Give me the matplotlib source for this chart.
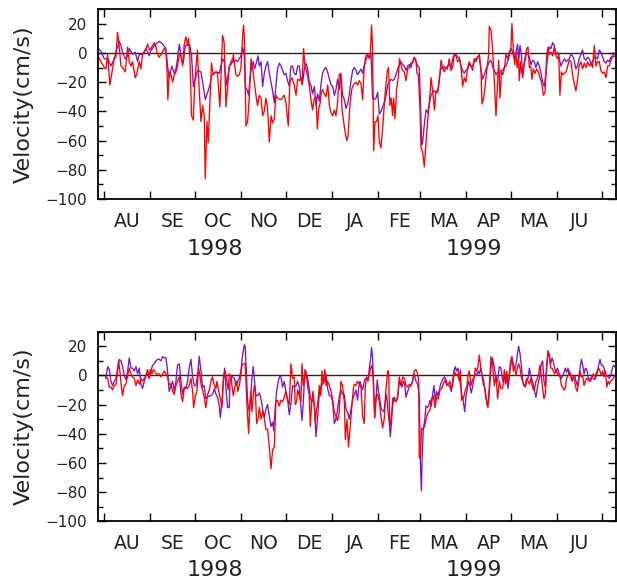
import numpy as np
import pandas as pd
import matplotlib
matplotlib.use("Agg")
import matplotlib.pyplot as plt
import matplotlib.dates as mdates
import matplotlib.transforms as mtransforms
from matplotlib.ticker import FixedLocator, FixedFormatter, MultipleLocator, NullFormatter

plt.rcParams["font.family"] = ["DejaVu Sans"]

# (days since 1998-08-01, velocity cm/s)
top_red = [
    (-3.8, -3), (-2.2, -6), (0, -10), (1.1, -11), (2.3, -1), (3.8, -22), (5.6, -11), (6.7, -4), (7.8, -3),
    (8.9, 14), (10.1, 4), (11.2, -9), (12.3, -10), (14.1, -13), (15.7, 4), (16.8, -6), (17.9, -9), (19, -6),
    (20.8, -17), (21.7, -15), (23.5, -6), (24.6, -11), (25.7, -1), (26.9, 0.5), (28, 3), (29.1, 6), (30.2, 2),
    (31.3, 3), (32.5, 5), (33.6, 7), (34.7, 4), (35.8, -1), (36.9, -3), (38.1, -1), (40.3, 3), (41.4, 0.5),
    (42.1, -11), (42.7, -32), (43.6, -13), (44.8, -15), (45.9, -20), (47, -15), (48.1, -13), (49.2, -9),
    (50.4, -0.5), (51.5, -2), (52.6, -9), (53.7, 6), (54.8, 11), (55.9, 5), (56.6, 10), (57.5, -4), (58.6, -43),
    (59.8, -46), (60.7, -20), (61.5, -10), (62.5, 2), (63.5, -20), (64.9, -47), (66, -36), (67.1, -43),
    (67.8, -86), (68.9, -47), (69.8, -61), (70.9, -34), (72, -7), (73.2, -15), (74.5, -13), (76, -14),
    (77.6, -37), (79.4, 12), (80.5, 7), (81.7, -37), (83.9, -9), (85, -8), (86.2, -6), (86.6, -1), (88.4, -15),
    (89.5, -16), (90.6, -15), (91.7, -11), (92.9, 12), (93.5, 19), (94.2, 7), (95.1, -50), (96.2, -47),
    (97.3, -31), (98.5, -4), (99.6, -10), (100.7, -20), (101.8, -29), (102.9, -36), (104, -29), (105.2, -31),
    (106.3, -43), (107.4, -40), (108.5, -31), (109.6, -38), (110.8, -61), (111.9, -43), (113, -48), (114.1, -45),
    (115.2, -29), (116.3, -31), (118.6, -32), (120.8, -29), (121.9, -34), (123.5, -50), (124.6, -20), (126, -17),
    (127.5, -22), (128.7, -29), (129.8, -18), (130.9, -19), (132, -17), (132.7, -22), (133.8, 3), (134.7, -9),
    (135.4, -11), (136.5, -16), (137.6, -22), (138.7, -32), (139.8, -39), (141, -31), (142.1, -30), (143, -52),
    (143.9, -38), (144.8, -35), (145.7, -27), (146.6, -25), (147.7, -28), (148.8, -30), (150, -22), (151.1, -36),
    (152.2, -41), (153.3, -43), (154.4, -39), (155.5, -43), (156.6, -34), (157.7, -15), (158.8, -14),
    (159.5, -38), (160.4, -45), (161.3, -52), (162.7, -60), (163.6, -57), (165, -34), (166.1, -25), (167.2, -22),
    (168.9, -20), (170, -22), (171.2, -19), (172.3, -21), (173.4, -32), (174.5, -9), (175.6, -2), (176.8, -1),
    (177.9, -4), (178.6, 0.5), (179.4, 19), (180.1, 3), (180.8, -67), (181.7, -47), (182.8, -47), (183.7, -43),
    (184.6, -61), (185.7, -65), (186.8, -52), (187.9, -36), (189, -22), (190, -12), (190.8, -10), (191.7, -36),
    (192.6, -31), (193.5, -43), (194.2, -31), (195.1, -45), (196.2, -25), (197.3, -17), (198.2, -4), (199.1, -8),
    (200.2, -12), (201.4, -13), (202.5, -19), (203.6, -11), (204.7, -10), (205.8, -7), (206.9, -7), (208, -3),
    (209.2, -5), (209.9, -14), (210.8, -15), (211.9, -38), (212.6, -65), (213.7, -68), (214.8, -78), (216, -61),
    (217.1, -45), (218.2, -35), (219.3, -17), (220.4, -26), (221.6, -39), (222.6, -26), (223.7, -27),
    (224.8, -20), (226, -5), (227.1, -10), (228.2, -13), (229.3, -10), (230.4, -11), (231.5, -4), (232.7, -12),
    (233.8, -10), (234.9, -1), (236, -2), (237.2, -6), (238.3, -4), (239.4, -9), (240.5, -23), (241.6, -17),
    (242.7, -20), (243.9, -10), (245, -6), (246.1, -9), (247.2, -12), (248.3, -4), (249.4, -6), (250.6, -3),
    (251.7, -1), (252.8, -12), (253.5, -35), (254.6, -31), (255.7, -22), (256.8, -11), (257.9, -2), (258.4, 18),
    (259.5, 16), (260.6, 3), (261.8, -20), (262.9, -43), (264, -20), (264.7, -5), (265.6, -31), (266.5, -13),
    (267.4, -15), (268.5, -11), (269.6, -1), (270.7, -4), (271.8, 0.5), (272.9, 3), (273.6, 20), (274.5, 3),
    (275.4, -8), (276.3, 0.5), (277, -10), (277.9, -4), (278.6, -19), (279.4, -6), (280.3, -14), (281.2, -11),
    (282.3, -4), (283.5, 3), (284.4, 4), (285.3, -10), (286.2, -9), (287.1, -18), (288, -11), (289.1, -14),
    (290.2, -11), (291.3, -13), (292.4, -17), (293.5, -20), (294.7, -29), (295.8, -27), (296.9, -2), (297.8, 4),
    (298.7, -1), (299.8, 0.5), (300.9, -2), (302, 4), (303.2, -2), (304.3, -4), (305, -1), (305.8, -29),
    (306.8, -13), (307.7, -15), (308.8, -14), (309.9, -13), (311, -9), (312.1, -5), (313.2, -6), (314.3, -15),
    (315.4, -21), (316.5, -26), (317.6, -19), (318.7, -9), (319.9, -6), (321, -11), (322.1, -7), (323.3, -10),
    (324.4, -6), (325.5, -9), (326.6, -7), (327.7, -10), (328.9, 5), (330, -9), (331.1, -6), (332.2, -6),
    (333.3, -12), (334.5, -14), (335.6, -13), (336.7, -17), (337.8, -9), (338.9, -9), (340, -5), (341.1, -3),
    (342.9, -2),
]

top_purple = [
    (-3.8, 3), (-2.2, 1), (0, -4), (2.3, -4), (4.5, -9), (6.7, -4), (8.3, 2), (10.1, 8), (11.2, 5), (12.3, 0.5),
    (14.1, -4), (15.7, -2), (16.8, 3), (19, -1), (20.8, 0.5), (22.4, -6), (23.5, -1), (25.7, -1), (28, 3),
    (30.2, -2), (31.3, 1.5), (33.6, 5), (34.7, 6), (36.9, 8), (39.2, 6), (41.4, 3), (42.5, -9), (43.6, -17),
    (45.4, -9), (47, -14), (48.1, -11), (49.2, -4), (50.4, 6), (52.1, -6), (53, -7), (54.4, 5), (55.9, 6),
    (57.5, 5), (58.6, -2), (59.8, -23), (61.1, -18), (62.7, -12), (64.9, -13), (66, -20), (67.8, -32),
    (69.4, -27), (70.9, -22), (72.3, -15), (73.9, -14), (75.4, -13), (77.2, -14), (79.4, -4), (80.5, -6),
    (82.1, -22), (83.9, -10), (85, -6), (86.2, -4), (87.3, -6), (88.4, -5), (89.5, -6), (90.6, -4), (91.7, -2),
    (92.9, 4), (94, -2), (94.6, -23), (95.8, -25), (96.9, -29), (98, -15), (99.1, -9), (100, -6), (100.9, -11),
    (102.3, -6), (103.2, -2), (104.1, -9), (105.2, -6), (106.3, -23), (107.4, -14), (108.5, -9), (109.6, -6),
    (110.8, -14), (111.9, -20), (113, -26), (114.1, -34), (115.2, -23), (116.3, -11), (117.5, -7), (118.6, -9),
    (119.7, -12), (120.8, -15), (121.9, -14), (123, -19), (124.2, -23), (125.3, -9), (126.4, -9), (127.5, -14),
    (128.7, -15), (129.8, -9), (130.9, -9), (132, -18), (133.1, -21), (134.3, -11), (135.4, -7), (136.5, -11),
    (137.6, -20), (138.7, -22), (139.8, -28), (141, -23), (142.1, -36), (143.2, -28), (144.3, -33), (145.4, -22),
    (146.5, -14), (147.7, -11), (148.8, -10), (149.9, -13), (151.1, -18), (152.2, -22), (153.3, -23),
    (154.4, -29), (155.5, -25), (156.6, -18), (157.7, -25), (158.8, -15), (159.9, -29), (161.1, -32),
    (162.2, -38), (163.3, -35), (164.4, -29), (165.6, -19), (166.7, -12), (167.8, -10), (169, -12), (170, -15),
    (171.2, -13), (172.3, -11), (173.4, -14), (174.5, -9), (175.6, -5), (176.8, -2), (177.9, -3), (179, -1),
    (180.1, -31), (181.2, -32), (182.4, -31), (183.5, -27), (184.6, -42), (185.7, -40), (186.8, -37),
    (187.9, -34), (189, -30), (190.2, -22), (191.3, -20), (192.4, -18), (193.5, -19), (194.6, -18), (195.8, -15),
    (196.9, -11), (198, -8), (199.1, -6), (200.2, -8), (201.4, -9), (202.5, -12), (203.6, -9), (204.7, -8),
    (205.8, -10), (206.9, -6), (208, -3), (209.2, -6), (210.3, -9), (211.4, -10), (212.1, -29), (213, -63),
    (213.7, -61), (214.8, -49), (216, -39), (217.1, -41), (218.2, -34), (219.3, -29), (220.4, -27), (221.6, -26),
    (222.6, -27), (223.7, -27), (224.8, -18), (226, -10), (227.1, -11), (228.2, -9), (229.3, -11), (230.4, -9),
    (231.5, -8), (232.7, -10), (233.8, -4), (234.9, -1), (236, -1), (237.2, -3), (238.3, -3), (239.4, -9),
    (240.5, -12), (241.6, -14), (242.7, -12), (243.9, -11), (245, -8), (246.1, -9), (247.2, -9), (248.3, -6),
    (249.4, -4), (250.6, -3), (251.7, -2), (252.8, -11), (253.9, -18), (255, -15), (256.2, -11), (257.3, -9),
    (258.4, -6), (259.5, -5), (260.6, -9), (261.8, -12), (262.9, -15), (264, -13), (265.2, -14), (266.3, -12),
    (267.4, -12), (268.5, -10), (269.6, -9), (270.7, -6), (271.8, -2), (272.9, 3), (274, 0.5), (275.2, -4),
    (276.3, 0.5), (277.4, 6), (278.1, -6), (279, 5), (280, -1), (280.8, -17), (281.7, -9), (282.6, -4),
    (283.5, 0.5), (284.4, -1), (285.3, -3), (286.4, -8), (287.5, -5), (288.6, -6), (289.7, -10), (290.9, -6),
    (292, -9), (293.1, -14), (294.2, -20), (295.3, -23), (296.4, -14), (297.6, -2), (298.7, 4), (299.8, 3),
    (300.9, 7), (302, 5), (303.2, -1), (304.3, 0.5), (305.4, -4), (306.5, -9), (307.7, -6), (308.8, -4),
    (309.9, -6), (311, -5), (312.1, -4), (313.2, -1), (314.3, -2), (315.4, -5), (316.5, -11), (317.6, -9),
    (318.7, -4), (319.9, -1), (321, 2), (322.1, -4), (323.3, -5), (324.4, -3), (325.5, -4), (326.6, -7),
    (327.7, -6), (328.9, -3), (330, -3), (331.1, -4), (332.2, 2), (333.3, 0.5), (334.5, -3), (335.6, -6),
    (336.7, -7), (337.8, -5), (338.9, -6), (340, -3), (341.1, -2), (342.9, 0),
]

bot_red = [
    (1.1, -1), (2.3, -2), (3.4, -8), (4.5, -8), (5.6, -10), (6.7, -7), (7.9, -6), (9, 3), (9.6, 10), (10.5, 3),
    (11.4, -7), (12.3, -14), (13.4, -7), (14.6, -6), (15.7, 0), (16.8, 5), (17.9, 1), (19, -1), (20.2, -2),
    (21.3, -7), (22.4, -3), (23.5, -6), (24.6, -2), (25.7, -4), (26.9, -2), (28, 0), (29.1, 4), (30.2, -2),
    (30.9, 4), (32, 1), (32.9, 4), (33.8, 3), (34.7, 1), (35.8, 1), (36.9, 1), (38.1, -1), (39.2, 1), (40.3, 3),
    (41.4, 1), (42.5, -1), (43.6, -6), (44.8, -6), (45.9, -11), (47, -13), (48.1, -7), (49.2, -4), (50.4, -1),
    (51.5, -13), (52.6, -18), (53.7, -9), (54.8, -8), (55.9, -9), (57, -7), (58.2, -2), (59.3, -11), (60, -22),
    (61.1, -14), (62.2, -11), (63.3, 5), (64.2, 0), (65.1, -7), (66, -10), (67.1, -15), (68.2, -22), (69.4, -13),
    (70.5, -10), (71.6, -4), (72.7, -1), (73.9, -7), (75, -9), (75.6, -4), (76.7, -10), (77.9, -16), (79, -22),
    (80.1, 0), (81.2, 3), (82.3, -4), (83.2, -10), (83.9, 1), (85, 0), (85.7, -7), (86.6, -14), (87.8, -7),
    (88.8, -4), (89.7, -11), (90.6, -7), (91.7, 0), (92.4, 7), (93.5, 8), (94.6, 8), (95.5, -14), (96.2, -28),
    (96.9, -40), (97.8, -18), (98.5, -11), (99.1, -25), (100, -14), (100.7, -7), (101.4, -11), (102.3, -33),
    (103.2, -30), (104.1, -22), (105.2, -30), (106.3, -25), (107.4, -29), (108.5, -37), (109.6, -37),
    (110.8, -49), (111.9, -64), (113, -51), (114.1, -49), (115.2, -18), (116.3, -17), (117.5, -21), (118.6, -17),
    (119.7, -18), (120.8, -15), (121.9, -11), (123, -17), (124.2, -20), (125.3, 8), (126.4, -2), (127.5, -1),
    (128.2, -20), (129.1, -18), (129.8, -10), (130.9, -14), (132, -18), (132.7, 8), (133.6, -7), (134.7, 1),
    (135.4, 3), (136.5, -8), (137.6, -14), (138.3, -35), (139.2, -18), (140.1, -11), (141, -21), (141.6, -32),
    (142.5, -23), (143.4, -18), (144.3, -7), (145.4, -14), (146.1, 3), (147, -6), (148.1, 4), (148.8, -7),
    (149.9, -4), (151.1, -7), (152.2, -11), (153.3, -17), (154.4, -25), (155.5, -28), (156.6, -31), (157.7, -25),
    (158.8, -4), (159.9, -7), (161.1, -18), (161.8, -44), (162.9, -30), (163.9, -49), (165.1, -35), (166.3, -19),
    (167.2, -9), (167.8, -6), (168.9, -7), (170, -4), (171.2, -6), (172.3, -8), (173.4, -28), (174.5, -33),
    (175.2, -7), (176.1, -1), (177, -3), (177.9, 0), (178.8, 5), (179.7, 7), (180.6, -4), (181.5, -29),
    (182.3, -15), (183.5, -13), (184.6, -18), (185.7, -28), (186.8, -36), (187.9, -30), (189, -10), (190.2, 3),
    (190.8, 3), (191.7, -35), (192.6, -30), (193.5, -21), (194.6, -15), (195.8, -18), (196.9, -15), (198, -1),
    (199.1, -7), (200.2, -1), (201.4, -2), (202.5, -7), (203.6, -8), (204.7, -6), (205.8, -7), (206.9, -4),
    (208, 3), (209.2, 4), (210.3, 1), (211, -3), (211.4, -56), (212.1, -57), (213, -36), (214.1, -37),
    (215.2, -34), (216.4, -28), (217.5, -25), (218.6, -24), (219.7, -16), (220.8, -14), (222, -22), (223.1, -15),
    (224.2, -16), (225.3, -10), (226.4, -9), (227.5, -6), (228.7, -3), (229.8, -7), (230.9, -6), (232, -4),
    (232.7, -9), (233.8, -7), (234.9, 3), (236, 0), (237.2, 1), (238.3, -4), (239, 4), (239.8, -17), (241, -16),
    (242.1, -11), (243.4, -7), (244.3, 1), (245, 3), (246.1, -7), (247.2, -3), (248.3, -1), (249, 5), (249.9, 3),
    (250.8, 6), (251.7, 14), (252.6, 6), (253.5, 0), (254.4, -6), (255.5, -9), (256.6, -17), (257.5, -22),
    (258.4, -8), (259.5, 13), (260.6, 7), (261.8, -7), (262.9, 0), (264, -16), (265.1, -4), (266.2, -9),
    (267.4, -9), (268.5, 4), (269.2, -4), (270.1, 3), (271, -7), (271.8, 0), (272.7, 10), (273.6, 13),
    (274.5, 3), (275.4, 6), (276.3, 0), (277.2, 5), (278.1, 8), (279, 5), (279.9, -1), (280.8, -4), (281.7, -7),
    (282.6, -6), (283.5, -2), (284.4, -4), (285.3, -6), (286.2, -2), (287.1, -7), (288, -10), (288.8, -9),
    (289.7, -4), (290.6, -2), (291.5, 1), (292.4, 7), (293.3, 0), (294.2, -9), (295.1, -16), (296, -13),
    (296.9, 5), (297.8, 17), (298.7, 14), (299.6, 5), (300.5, 5), (301.4, 3), (302.3, 1), (303.2, 4), (304.1, 1),
    (305, 0), (305.9, -1), (306.8, -7), (307.7, -8), (308.5, -10), (309.4, -9), (310.3, -2), (311.2, 0),
    (312.1, 3), (313, 1), (313.9, -3), (314.8, -1), (315.7, -4), (316.6, -9), (317.5, -11), (318.4, -4),
    (319.3, 3), (320.2, -1), (321.1, 0), (322, -7), (322.9, -4), (323.8, -2), (324.7, -3), (325.5, -4),
    (326.4, -4), (327.3, -1), (328.2, 1), (329.1, -1), (330, 1), (330.9, 3), (331.8, 5), (332.7, 3), (333.6, 0),
    (334.5, 3), (335.4, -1), (336.3, 3), (337.2, -8), (338.1, -4), (339, -6), (339.9, -4), (340.8, -3),
    (341.7, -2), (342.6, 0),
]

bot_purple = [
    (1.1, -2), (2.3, 6), (3.4, 4), (4.5, -4), (5.6, -7), (6.7, -4), (7.9, -2), (9, 5), (10.1, 11), (11.2, 10),
    (12.3, 6), (13.4, 0), (14.6, -3), (15.7, 3), (16.8, 12), (17.9, 5), (19, 5), (20.2, 3), (21.3, 6), (22.4, 1),
    (23.5, 5), (24.6, -6), (25.7, -9), (26.9, -4), (28, 0), (29.1, 1), (30.2, -2), (31.3, 3), (32.5, 7),
    (33.6, 8), (34.7, 10), (35.8, 11), (36.9, 11), (38.1, 10), (39.2, 13), (40.3, 12), (41.4, 12), (42.5, 3),
    (43.6, -11), (44.8, -7), (45.9, -4), (47, -11), (48.1, -4), (49.2, 7), (50.4, 8), (51.5, -4), (52.6, -13),
    (53.7, -8), (54.8, -9), (55.9, -4), (57, 5), (58.2, 11), (59.3, -1), (60.4, -7), (61.5, -7), (62.7, 1),
    (63.8, 13), (64.9, 3), (66, -8), (67.1, -7), (68.2, -16), (69.4, -15), (70.5, -14), (71.6, -14), (72.7, -13),
    (73.9, -9), (75, -13), (76.1, -15), (77.2, -21), (77.9, -29), (79, -18), (79.9, -4), (80.8, 5), (81.7, -9),
    (82.8, -22), (83.9, -22), (84.4, -4), (85.3, -1), (86.2, -1), (87.3, -2), (88.4, -7), (89.5, -4), (90.6, -2),
    (91.7, 3), (92.9, 14), (94, 21), (94.6, 20), (95.5, 0), (96.2, -18), (97.3, -25), (98.5, -11), (99.1, -2),
    (100, 6), (100.9, -4), (101.8, -14), (102.9, -14), (104.1, -12), (105.2, -16), (106.3, -23), (107.4, -29),
    (108.5, -23), (109.6, -20), (110.8, -28), (111.9, -35), (113, -32), (113.7, -38), (114.8, -21), (115.7, -11),
    (116.8, -4), (117.9, 0), (118.6, -1), (119.7, -8), (120.8, -4), (121.9, -11), (123, -16), (124.2, -27),
    (125.3, -19), (126.4, -7), (127.5, -8), (128.7, -7), (129.8, -4), (130.9, -8), (132, -22), (132.7, -31),
    (133.6, -18), (134.7, 4), (135.4, 0), (136.5, -2), (137.6, -9), (138.3, -15), (139.2, -18), (140.1, -16),
    (141, -21), (142.1, -42), (142.7, -35), (143.4, -25), (144.3, -13), (145.4, -7), (146.5, -6), (147.7, -4),
    (148.8, 1), (149.9, -9), (151.1, -14), (152.2, -14), (153.3, -18), (154.4, -33), (155.5, -30), (156.6, -23),
    (157.7, -15), (158.8, -10), (159.9, -13), (161.1, -13), (162.2, -23), (163.3, -25), (164.4, -30),
    (165.6, -23), (166.7, -17), (167.8, -13), (168.9, -10), (170, -17), (170.7, -9), (171.6, -4), (172.5, -7),
    (173.4, -10), (174.5, -4), (175.2, -2), (176.1, -2), (177, -4), (177.9, 5), (178.8, 12), (179.4, 19),
    (180.1, 12), (180.8, -9), (181.5, -29), (182.3, -18), (183.2, -3), (184.1, -11), (185, -17), (185.9, -23),
    (186.8, -24), (187.7, -25), (188.6, -18), (189.5, -13), (190.4, -24), (191.3, -33), (192, -42), (192.9, -30),
    (193.5, -16), (194.4, -15), (195.3, -18), (196.2, -17), (197.1, -14), (198, -4), (198.9, -6), (199.8, -8),
    (200.7, -4), (201.6, -6), (202.5, -15), (203.6, -11), (204.7, -8), (205.8, -7), (206.9, -4), (208, 1),
    (209.2, -4), (210.3, -6), (211.4, -14), (212.1, -58), (212.8, -79), (213.4, -55), (214.1, -37), (215, -31),
    (215.9, -21), (216.8, -22), (217.7, -21), (218.6, -17), (219.5, -21), (220.4, -13), (221.3, -7),
    (222.2, -18), (223.1, -11), (224, -14), (224.9, -10), (225.7, -6), (226.6, -4), (227.5, -2), (228.4, -1),
    (229.3, -3), (230.2, -6), (231.1, -7), (232, -8), (232.9, -11), (233.8, -4), (234.7, 3), (235.6, 6),
    (236.5, 3), (237.4, 5), (238.3, -2), (239.2, -7), (240.1, -14), (241, -18), (241.9, -25), (242.8, -14),
    (243.6, -9), (244.5, -4), (245.4, -7), (246.3, -12), (247.2, -8), (248.1, -2), (249, 1), (249.9, 0),
    (250.8, 3), (251.7, 1), (252.6, 5), (253.5, 0), (254.4, -2), (255.3, -9), (256.2, -16), (257.1, -21),
    (258, -17), (258.9, -4), (259.8, 9), (260.6, 12), (261.8, 5), (262.9, -2), (264, -4), (265.1, 6), (266.2, 5),
    (267.4, -4), (268.5, 0), (269.2, -6), (270.1, -2), (271, -9), (271.8, 0), (272.7, 6), (273.6, 12), (274.5, 8),
    (275.4, 5), (276.3, 7), (277.2, 14), (278.1, 20), (279, 15), (279.9, 7), (280.8, -4), (281.7, -7),
    (282.6, -8), (283.5, -4), (284.4, -2), (285.3, 5), (286.2, 0), (287.1, -3), (288, -7), (288.8, -11),
    (289.7, -15), (290.6, -9), (291.5, -4), (292.4, 0), (293.3, 8), (294.2, 10), (295.1, -4), (296, -8),
    (296.9, 7), (297.8, 15), (298.7, 13), (299.6, 8), (300.5, 12), (301.4, 9), (302.3, 5), (303.2, 2), (304.1, 5),
    (305, 2), (305.9, 0), (306.8, -2), (307.7, 0), (308.5, 2), (309.4, 5), (310.3, 2), (311.2, 5), (312.1, 1),
    (313, 0), (313.9, -4), (314.8, -2), (315.7, 0), (316.6, -4), (317.5, -7), (318.4, -2), (319.3, 5),
    (320.2, 11), (321.1, 7), (322, 1), (322.9, 5), (323.8, 4), (324.7, -1), (325.5, -3), (326.4, -2), (327.3, -1),
    (328.2, -2), (329.1, -3), (330, -1), (330.9, 2), (331.8, 7), (332.7, 11), (333.6, 7), (334.5, 7), (335.4, 5),
    (336.3, 1), (337.2, 0), (338.1, -1), (339, -2), (339.9, 0), (340.8, 4), (341.7, 7), (342.6, 6),
]

month_labels = ["AU", "SE", "OC", "NO", "DE", "JA", "FE", "MA", "AP", "MA", "JU"]
year_labels = ["1998", "1999"]

RED = "#ff0000"
PURPLE = "#7a14c8"
TXT = "#222222"

base = mdates.date2num(pd.Timestamp("1998-08-01"))
month_starts = pd.date_range("1998-08-01", "1999-07-01", freq="MS")
month_mids = month_starts[:-1] + (month_starts[1:] - month_starts[:-1]) / 2
jan1 = mdates.date2num(pd.Timestamp("1999-01-01"))
x0, x1 = base - 4.2, base + 343.4

fig = plt.figure(figsize=(6.17, 5.84), dpi=100)
ax_top = fig.add_axes([0.1588, 0.6592, 0.8395, 0.3253])
ax_bot = fig.add_axes([0.1588, 0.1074, 0.8395, 0.3247])

for ax, purple, red, yr_y in ((ax_top, top_purple, top_red, -0.263), (ax_bot, bot_purple, bot_red, -0.257)):
    d, v = np.array(purple).T
    ax.plot(base + d, v, color=PURPLE, lw=0.95)
    d, v = np.array(red).T
    ax.plot(base + d, v, color=RED, lw=0.95)
    ax.axhline(0, color="#222222", lw=1.0, zorder=1.5)

    ax.set_xlim(x0, x1)
    ax.set_ylim(-100, 30)

    ax.xaxis.set_major_locator(FixedLocator(mdates.date2num(month_starts)))
    ax.xaxis.set_major_formatter(NullFormatter())
    ax.xaxis.set_minor_locator(FixedLocator(mdates.date2num(month_mids)))
    ax.xaxis.set_minor_formatter(FixedFormatter(month_labels))
    ax.yaxis.set_major_locator(FixedLocator(range(-100, 21, 20)))
    ax.yaxis.set_minor_locator(MultipleLocator(10))

    ax.tick_params(axis="x", which="major", direction="in", length=5.8, width=1.0, top=True, bottom=True)
    ax.tick_params(axis="x", which="minor", length=0, pad=9, labelsize=13.5, labelcolor=TXT)
    ax.tick_params(axis="y", which="major", direction="in", length=5.8, width=1.0,
                   left=True, right=True, labelsize=11, pad=7.7, labelcolor=TXT)
    ax.tick_params(axis="y", which="minor", direction="in", length=3.6, width=1.0, left=True, right=True)

    for s in ax.spines.values():
        s.set_linewidth(1.3)

    ax.set_ylabel("Velocity(cm/s)", fontsize=16, color=TXT)
    ax.yaxis.set_label_coords(-0.124, 0.5)

    trans = mtransforms.blended_transform_factory(ax.transData, ax.transAxes)
    for xpos, txt in zip([(x0 + jan1) / 2, (jan1 + x1) / 2], year_labels):
        ax.text(xpos, yr_y, txt, transform=trans, ha="center", va="center", fontsize=16, color=TXT)

fig.savefig("out.png", dpi=100)
